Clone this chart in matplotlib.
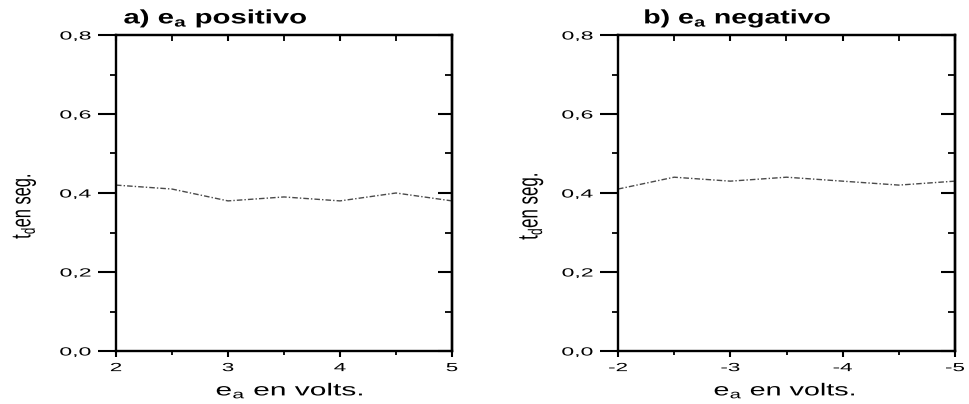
import matplotlib
matplotlib.use("Agg")
import matplotlib.pyplot as plt
from matplotlib.ticker import MultipleLocator, FuncFormatter
from matplotlib.patheffects import AbstractPathEffect
from matplotlib.transforms import Affine2D

# Delay time t_d (s) versus applied voltage e_a (V)
ea_pos = [2.0, 2.5, 3.0, 3.5, 4.0, 4.5, 5.0]
td_pos = [0.42, 0.41, 0.38, 0.39, 0.38, 0.40, 0.38]

ea_neg = [-2.0, -2.5, -3.0, -3.5, -4.0, -4.5, -5.0]
td_neg = [0.41, 0.44, 0.43, 0.44, 0.43, 0.42, 0.43]

titles = ["a) e$_\\mathbf{a}$ positivo", "b) e$_\\mathbf{a}$ negativo"]
xlabel = "e$_\\mathregular{a}$ en volts."
ylabel = "t$_\\mathregular{d}$en seg."

plt.rcParams["font.family"] = ["Liberation Sans", "DejaVu Sans"]
plt.rcParams["mathtext.fontset"] = "custom"
plt.rcParams["mathtext.rm"] = "Liberation Sans"
plt.rcParams["mathtext.bf"] = "Liberation Sans:bold"


class HStretch(AbstractPathEffect):
    """Widen text horizontally (in display space) about an anchor edge."""

    def __init__(self, sx, anchor="center"):
        super().__init__()
        self.sx = sx
        self.anchor = anchor

    def draw_path(self, renderer, gc, tpath, affine, rgbFace=None):
        bb = tpath.get_extents(affine)
        if self.anchor == "right":
            x0 = bb.x1
        elif self.anchor == "left":
            x0 = bb.x0
        else:
            x0 = 0.5 * (bb.x0 + bb.x1)
        tr = affine + Affine2D().translate(-x0, 0).scale(self.sx, 1.0).translate(x0, 0)
        renderer.draw_path(gc, tpath, tr, rgbFace)


fig = plt.figure(figsize=(9.69, 4.04), dpi=100)
W, H = 969, 404
renderer = fig.canvas.get_renderer()


def wide_text(cx, cy, s, width_px, rotation=0, length_px=None, **kw):
    """Text centred at pixel (cx, cy) whose horizontal extent is width_px."""
    t = fig.text(cx / W, 1 - cy / H, s, ha="center", va="center",
                 rotation=rotation, **kw)
    if length_px is not None:
        bb = t.get_window_extent(renderer)
        t.set_fontsize(t.get_fontsize() * length_px / bb.height)
    bb = t.get_window_extent(renderer)
    t.set_path_effects([HStretch(width_px / bb.width)])
    return t


def comma(v, pos):
    return f"{v:.1f}".replace(".", ",")


def style_axes(ax, xlim):
    ax.set_xlim(*xlim)
    ax.set_ylim(0.0, 0.8)
    ax.xaxis.set_major_locator(MultipleLocator(1))
    ax.xaxis.set_minor_locator(MultipleLocator(0.5))
    ax.yaxis.set_major_locator(MultipleLocator(0.2))
    ax.yaxis.set_minor_locator(MultipleLocator(0.1))
    ax.yaxis.set_major_formatter(FuncFormatter(comma))
    ax.xaxis.set_major_formatter(FuncFormatter(lambda v, p: f"{v:g}"))
    for s in ax.spines.values():
        s.set_linewidth(1.7)
    ax.tick_params(axis="y", which="major", direction="out", length=13, width=1.5,
                   labelsize=8.5, pad=5)
    ax.tick_params(axis="y", which="minor", direction="out", length=4, width=1.3)
    ax.tick_params(axis="x", which="major", direction="out", length=4, width=1.5,
                   labelsize=8.5, pad=4)
    ax.tick_params(axis="x", which="minor", direction="out", length=3, width=1.3)
    ax.tick_params(which="both", top=False, right=False)
    for lab in ax.get_yticklabels():
        lab.set_path_effects([HStretch(1.95, "right")])
    for lab in ax.get_xticklabels():
        lab.set_path_effects([HStretch(1.9, "center")])
    # inward ticks on the opposite spines
    sec_y = ax.secondary_yaxis("right")
    sec_y.yaxis.set_major_locator(MultipleLocator(0.2))
    sec_y.yaxis.set_minor_locator(MultipleLocator(0.1))
    sec_y.tick_params(which="major", direction="in", length=10, width=1.5, labelright=False)
    sec_y.tick_params(which="minor", direction="in", length=5, width=1.3)
    sec_y.spines["right"].set_linewidth(1.7)
    sec_x = ax.secondary_xaxis("top")
    sec_x.xaxis.set_major_locator(MultipleLocator(1))
    sec_x.xaxis.set_minor_locator(MultipleLocator(0.5))
    sec_x.tick_params(which="major", direction="in", length=4, width=1.5, labeltop=False)
    sec_x.tick_params(which="minor", direction="in", length=4, width=1.3)
    sec_x.spines["top"].set_linewidth(1.5)


# pixel layout of each panel: axes box, title, x label, y label
panels = [
    dict(box=(116, 452), xs=ea_pos, ys=td_pos, xlim=(2, 5),
         title=(216, 19, 186), xlab=(290, 391, 150), ylab=(24, 206, 30, 66)),
    dict(box=(618, 955), xs=ea_neg, ys=td_neg, xlim=(-2, -5),
         title=(738, 19, 190), xlab=(785, 391, 144), ylab=(531, 206, 30, 68)),
]

for i, p in enumerate(panels):
    x0, x1 = p["box"]
    ax = fig.add_axes([x0 / W, (H - 351) / H, (x1 - x0) / W, (351 - 35) / H])
    style_axes(ax, p["xlim"])
    ax.plot(p["xs"], p["ys"], color="#4a4a4a", lw=1.0, ls=(0, (4, 1.5, 1, 1.5)))
    cx, cy, w = p["title"]
    wide_text(cx, cy, titles[i], w, fontsize=14, fontweight="bold")
    cx, cy, w = p["xlab"]
    wide_text(cx, cy, xlabel, w, fontsize=12.5)
    cx, cy, w, ln = p["ylab"]
    wide_text(cx, cy, ylabel, w, rotation=90, length_px=ln, fontsize=11.5)

fig.savefig("out.png", dpi=100)
